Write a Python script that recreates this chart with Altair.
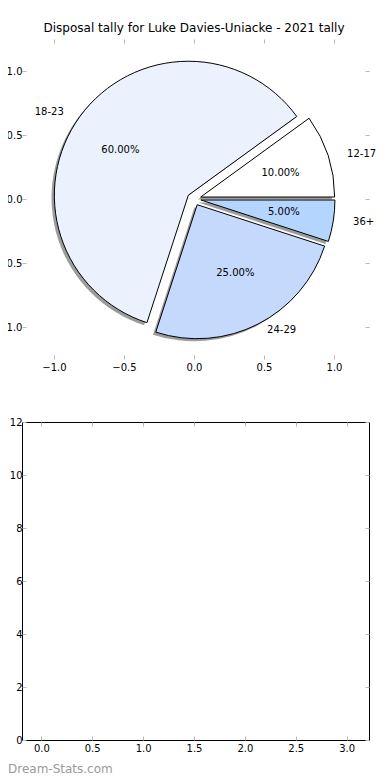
import math
import altair as alt
import pandas as pd

# ---- data ----
labels = ["12-17", "18-23", "24-29", "36+"]
shares = [10, 60, 25, 5]
explode = [0.05, 0.05, 0.05, 0.05]
colors = ["#ffffff", "#ebf2fe", "#c5d9fd", "#b4d5fe"]

pie_ticks = [-1.0, -0.5, 0.0, 0.5, 1.0]
pie_x_domain = [-1.2286, 1.25]
pie_y_domain = [-1.25, 1.25]
bar_x_ticks = [0.0, 0.5, 1.0, 1.5, 2.0, 2.5, 3.0]
bar_y_ticks = [0, 2, 4, 6, 8, 10, 12]
bar_x_domain = [-0.19, 3.22]
bar_y_domain = [0, 12]

title_text = "Disposal tally for Luke Davies-Uniacke - 2021 tally"
watermark = "Dream-Stats.com"

FONT = "DejaVu Sans"
TICK_COLOR = "#b8b8b8"
PANEL_W = 347

# ---- pie table (matplotlib-style: start at 3 o'clock, counter-clockwise) ----
rows = []
total = float(sum(shares))
a0 = 0.0
for lab, v, e, c in zip(labels, shares, explode, colors):
    a1 = a0 + 2 * math.pi * v / total
    mid = (a0 + a1) / 2
    cx, cy = e * math.cos(mid), e * math.sin(mid)
    lx = cx + 1.1 * math.cos(mid)
    rows.append(dict(
        label=lab, pct=f"{100 * v / total:.2f}%", color=c,
        t1=2.5 * math.pi - a1, t2=2.5 * math.pi - a0,
        cx=cx, cy=cy, sx=cx - 0.02, sy=cy - 0.02,
        lx=lx, ly=cy + 1.1 * math.sin(mid),
        px=cx + 0.6 * math.cos(mid), py=cy + 0.6 * math.sin(mid),
        side="left" if lx > 0 else "right",
    ))
    a0 = a1
pie_df = pd.DataFrame(rows)

xs = alt.Scale(domain=pie_x_domain, nice=False, zero=False)
ys = alt.Scale(domain=pie_y_domain, nice=False, zero=False)


def ax(orient, values, fmt, labels=True, pad=3):
    kw = dict(orient=orient, values=values, domain=False, grid=False, ticks=True,
              tickSize=4, tickColor=TICK_COLOR, tickWidth=1, offset=-4, title=None,
              labels=labels)
    if labels:
        kw.update(format=fmt, labelFont=FONT, labelFontSize=10, labelColor="black",
                  labelPadding=pad)
    return alt.Axis(**kw)


base = alt.Chart(pie_df)

shadow = base.mark_arc(radius=134, fill="#3a3a3a", opacity=0.5, stroke=None).encode(
    x=alt.X("sx:Q", scale=xs, axis=ax("bottom", pie_ticks, ".1f")),
    y=alt.Y("sy:Q", scale=ys, axis=ax("left", pie_ticks, ".1f", pad=0)),
    theta=alt.Theta("t1:Q", scale=None),
    theta2="t2:Q",
)

wedges = base.mark_arc(radius=134, stroke="black", strokeWidth=1).encode(
    x=alt.X("cx:Q", scale=xs, axis=None),
    y=alt.Y("cy:Q", scale=ys, axis=None),
    theta=alt.Theta("t1:Q", scale=None),
    theta2="t2:Q",
    fill=alt.Fill("color:N", scale=None),
)

pct_text = base.mark_text(font=FONT, fontSize=10, color="black", align="center",
                          baseline="middle").encode(
    x=alt.X("px:Q", scale=xs, axis=None), y=alt.Y("py:Q", scale=ys, axis=None),
    text="pct:N")

lab_left = base.transform_filter(alt.datum.side == "left").mark_text(
    font=FONT, fontSize=10, color="black", align="left", baseline="middle").encode(
    x=alt.X("lx:Q", scale=xs, axis=None), y=alt.Y("ly:Q", scale=ys, axis=None),
    text="label:N")

lab_right = base.transform_filter(alt.datum.side == "right").mark_text(
    font=FONT, fontSize=10, color="black", align="right", baseline="middle").encode(
    x=alt.X("lx:Q", scale=xs, axis=None), y=alt.Y("ly:Q", scale=ys, axis=None),
    text="label:N")

pie_frame_axes = base.mark_point(opacity=0).encode(
    x=alt.X("cx:Q", scale=xs, axis=ax("top", pie_ticks, ".1f", labels=False)),
    y=alt.Y("cy:Q", scale=ys, axis=ax("right", pie_ticks, ".1f", labels=False)),
)

top = alt.layer(shadow, wedges, pct_text, lab_left, lab_right, pie_frame_axes).resolve_axis(
    x="independent", y="independent"
).properties(
    width=PANEL_W, height=320,
    title=alt.TitleParams(title_text, font=FONT, fontSize=12, fontWeight="normal",
                          color="black", anchor="middle", frame="group", dx=-1.5,
                          offset=4),
    view=alt.ViewBackground(stroke=None),
)

# ---- empty lower panel ----
bar_df = pd.DataFrame({"x": bar_x_domain, "y": bar_y_domain})
bxs = alt.Scale(domain=bar_x_domain, nice=False, zero=False)
bys = alt.Scale(domain=bar_y_domain, nice=False, zero=False)

b1 = alt.Chart(bar_df).mark_point(opacity=0).encode(
    x=alt.X("x:Q", scale=bxs, axis=ax("bottom", bar_x_ticks, ".1f")),
    y=alt.Y("y:Q", scale=bys, axis=ax("left", bar_y_ticks, "d", pad=0)),
)
b2 = alt.Chart(bar_df).mark_point(opacity=0).encode(
    x=alt.X("x:Q", scale=bxs, axis=ax("top", bar_x_ticks, ".1f", labels=False)),
    y=alt.Y("y:Q", scale=bys, axis=ax("right", bar_y_ticks, "d", labels=False)),
)

bottom = alt.layer(b1, b2).resolve_axis(x="independent", y="independent").properties(
    width=PANEL_W, height=318,
    title=alt.TitleParams(watermark, orient="bottom", anchor="start", frame="group",
                          font=FONT, fontSize=12, fontWeight="normal", color="#9a9a9a",
                          dx=-14, offset=11),
    view=alt.ViewBackground(stroke="black", strokeWidth=1),
)

chart = alt.vconcat(top, bottom, spacing=63, bounds="flush").properties(
    padding={"left": -11, "top": 13, "right": 0, "bottom": 0}
)

chart.save("out.html", embed_options={"renderer": "svg", "actions": False})
